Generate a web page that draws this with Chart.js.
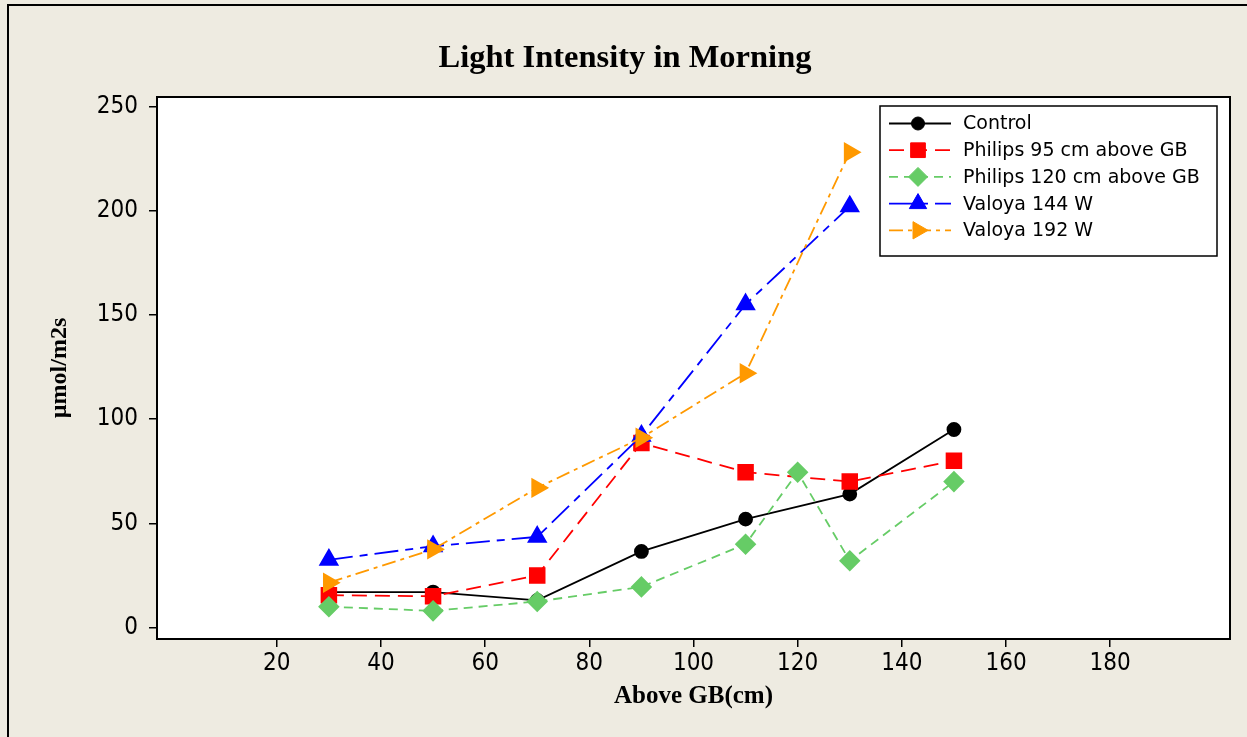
<!DOCTYPE html>
<html>
<head>
<meta charset="utf-8">
<script src="https://cdn.jsdelivr.net/npm/chart.js@4.4.1/dist/chart.umd.min.js"></script>
<style>
html,body{margin:0;padding:0;background:#EEEBE1;}
#wrap{width:1247px;height:737px;position:relative;}
</style>
</head>
<body>
<div id="wrap"><canvas id="c" width="1247" height="737"></canvas></div>
<script>
// ---- data ----
const chartTitle = 'Light Intensity in Morning';
const xTitle = 'Above GB(cm)';
const yTitle = 'µmol/m2s';
const seriesNames = ['Control', 'Philips 95 cm above GB', 'Philips 120 cm above GB', 'Valoya 144 W', 'Valoya 192 W'];

const xControl = [30, 50, 70, 90, 110, 130, 150];
const control = [17, 17, 13, 36.5, 52, 64, 95];

const xPhilips95 = [30, 50, 70, 90, 110, 130, 150];
const philips95 = [15.5, 15, 25, 88.5, 74.5, 70, 80];

const xPhilips120 = [30, 50, 70, 90, 110, 120, 130, 150];
const philips120 = [10, 8, 12.5, 19.5, 40, 74.5, 32, 70];

const xValoya144 = [30, 50, 70, 90, 110, 130];
const valoya144 = [32.5, 39, 43.5, 92, 155, 202];

const xValoya192 = [30, 50, 70, 90, 110, 130];
const valoya192 = [21.5, 37.5, 67, 91, 122, 228];

const xTicks = [20, 40, 60, 80, 100, 120, 140, 160, 180];
const yTicks = [0, 50, 100, 150, 200, 250];

function pts(xs, ys) { return xs.map((x, i) => ({x: x, y: ys[i]})); }

const TICK_FONT = "'DejaVu Sans Condensed', 'DejaVu Sans', sans-serif";
const LEGEND_FONT = "'DejaVu Sans', sans-serif";
const SERIF = "'Liberation Serif', 'Times New Roman', serif";

const bgPlugin = {
  id: 'bgPlugin',
  beforeDraw(chart) {
    const {ctx, chartArea: a} = chart;
    ctx.save();
    ctx.fillStyle = '#EEEBE1';
    ctx.fillRect(0, 0, chart.width, chart.height);
    ctx.strokeStyle = '#000';
    ctx.lineWidth = 2;
    ctx.strokeRect(8, 5, chart.width + 20, chart.height + 20);
    ctx.fillStyle = '#FFFFFF';
    ctx.fillRect(a.left, a.top, a.right - a.left, a.bottom - a.top);
    ctx.restore();
  },
  afterDraw(chart) {
    const {ctx, chartArea: a} = chart;
    ctx.save();
    ctx.strokeStyle = '#000';
    ctx.lineWidth = 2;
    ctx.strokeRect(a.left, a.top, a.right - a.left, a.bottom - a.top);
    // legend
    const L = {x: 880, y: 106, w: 337, h: 150, row0: 123.5, rowH: 26.7, lx0: 889, lx1: 951, mx: 918, tx: 963};
    ctx.fillStyle = '#fff';
    ctx.fillRect(L.x, L.y, L.w, L.h);
    ctx.lineWidth = 1.5;
    ctx.strokeStyle = '#000';
    ctx.strokeRect(L.x, L.y, L.w, L.h);
    chart.data.datasets.forEach((ds, i) => {
      const y = L.row0 + i * L.rowH;
      ctx.save();
      ctx.strokeStyle = ds.borderColor;
      ctx.lineWidth = ds.borderWidth;
      ctx.setLineDash(ds.borderDash || []);
      ctx.beginPath();
      ctx.moveTo(L.lx0, y);
      ctx.lineTo(L.lx1, y);
      ctx.stroke();
      ctx.setLineDash([]);
      ctx.fillStyle = ds.pointBackgroundColor;
      ctx.strokeStyle = ds.pointBorderColor;
      ctx.lineWidth = 1;
      Chart.helpers.drawPoint(ctx, {pointStyle: ds.pointStyle, radius: ds.pointRadius, rotation: ds.pointRotation || 0, borderWidth: 1}, L.mx, y);
      ctx.restore();
      ctx.fillStyle = '#000';
      ctx.font = "19px " + LEGEND_FONT;
      ctx.textBaseline = 'middle';
      ctx.textAlign = 'left';
      ctx.fillText(ds.label, L.tx, y + 1);
    });
    ctx.restore();
  }
};

const datasets = [
  {label: seriesNames[0], order: 4, data: pts(xControl, control), borderColor: '#000000', borderWidth: 1.8, borderDash: [],
   pointStyle: 'circle', pointRadius: 6.5, pointBackgroundColor: '#000', pointBorderColor: '#000'},
  {label: seriesNames[1], order: 3, data: pts(xPhilips95, philips95), borderColor: '#FF0000', borderWidth: 1.8, borderDash: [15, 8],
   pointStyle: 'rect', pointRadius: 10.4, pointBackgroundColor: '#FF0000', pointBorderColor: '#FF0000'},
  {label: seriesNames[2], order: 2, data: pts(xPhilips120, philips120), borderColor: '#66CC66', borderWidth: 1.8, borderDash: [9, 6],
   pointStyle: 'rectRot', pointRadius: 9.5, pointBackgroundColor: '#66CC66', pointBorderColor: '#66CC66'},
  {label: seriesNames[3], order: 1, data: pts(xValoya144, valoya144), borderColor: '#0000FF', borderWidth: 1.8, borderDash: [24, 7, 8, 7],
   pointStyle: 'triangle', pointRadius: 10, pointBackgroundColor: '#0000FF', pointBorderColor: '#0000FF'},
  {label: seriesNames[4], order: 0, data: pts(xValoya192, valoya192), borderColor: '#FF9900', borderWidth: 1.8, borderDash: [14, 5, 4, 5],
   pointStyle: 'triangle', pointRotation: 90, pointRadius: 10, pointBackgroundColor: '#FF9900', pointBorderColor: '#FF9900'}
];

new Chart(document.getElementById('c'), {
  type: 'line',
  data: {datasets: datasets},
  plugins: [bgPlugin],
  options: {
    responsive: false,
    animation: false,
    events: [],
    layout: {padding: {left: 20, right: 17, top: 0, bottom: 0}},
    plugins: {
      legend: {display: false},
      tooltip: {enabled: false},
      title: {
        display: true, text: chartTitle, color: '#000',
        font: {family: SERIF, size: 32.5, weight: 'bold', lineHeight: 1.2},
        padding: {top: 39, bottom: 19}
      }
    },
    scales: {
      x: {
        type: 'linear', min: -3, max: 203,
        afterBuildTicks(s) { s.ticks = xTicks.map(v => ({value: v})); },
        afterFit(s) { s.height = 98; },
        grid: {drawOnChartArea: false, drawTicks: true, tickLength: 8, color: '#000', lineWidth: 1.5},
        border: {display: true, color: '#000', width: 2},
        ticks: {color: '#000', font: {family: TICK_FONT, size: 24}, padding: 2, maxRotation: 0, autoSkip: false},
        title: {display: true, text: xTitle, color: '#000', font: {family: SERIF, size: 25, weight: 'bold', lineHeight: 1.2}, padding: {top: 0, bottom: 25.5}}
      },
      y: {
        type: 'linear', min: -5.5, max: 254.5,
        afterBuildTicks(s) { s.ticks = yTicks.map(v => ({value: v})); },
        afterFit(s) { s.width = 137; },
        grid: {drawOnChartArea: false, drawTicks: true, tickLength: 8, color: '#000', lineWidth: 1.5},
        border: {display: true, color: '#000', width: 2},
        ticks: {color: '#000', font: {family: TICK_FONT, size: 24}, padding: 11},
        title: {display: true, text: yTitle, color: '#000', font: {family: SERIF, size: 24, weight: 'bold', lineHeight: 1.2}, padding: {top: 25.6, bottom: 0}}
      }
    }
  }
});
</script>
</body>
</html>
